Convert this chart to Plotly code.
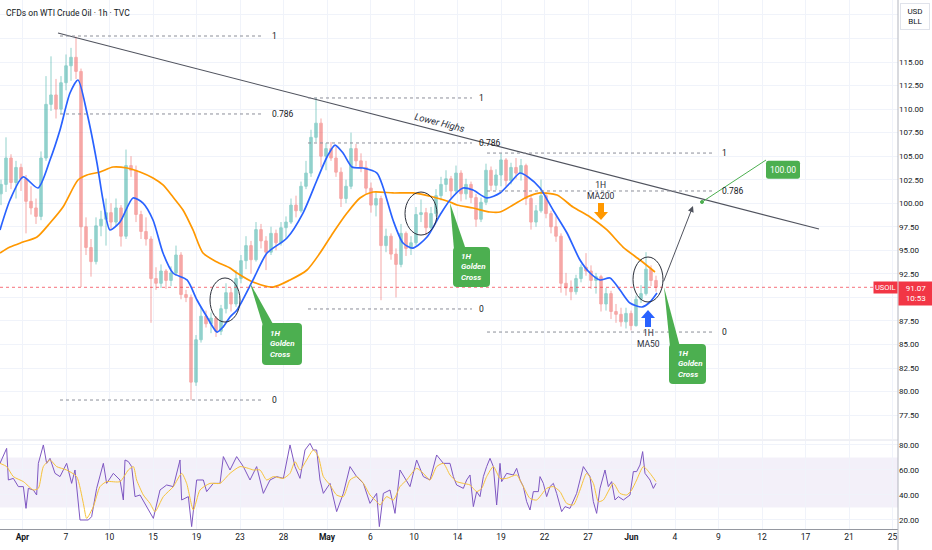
import plotly.graph_objects as go

# ---------------- data ----------------
open_ = [101.0,102.0,104.8,102.2,103.8,102.6,100.2,99.5,98.6,104.8,
         110.5,111.5,110.0,112.8,114.6,115.5,114.0,97.5,95.3,93.8,
         97.6,98.3,99.0,98.0,99.5,96.5,104.0,103.5,98.8,97.0,
         96.2,92.0,91.5,92.8,91.8,92.6,94.5,90.3,90.0,81.0,
         85.5,88.0,87.2,87.8,86.4,88.8,90.5,89.3,92.0,93.9,
         95.5,94.0,97.2,96.0,94.8,96.8,95.8,97.4,98.0,99.8,
         99.2,101.8,103.2,107.0,108.5,105.0,105.8,104.8,103.3,100.5,
         101.8,105.8,104.5,103.8,101.6,99.8,100.5,95.5,96.5,94.6,
         93.5,96.8,95.2,95.8,98.8,99.0,97.4,98.9,100.8,102.0,
         102.6,101.3,103.2,101.0,102.0,100.6,98.3,100.1,103.5,101.9,
         103.0,104.6,102.4,103.8,103.2,104.0,100.5,98.0,99.2,100.8,
         98.9,97.5,96.5,91.5,91.0,90.6,92.0,93.2,92.8,91.8,
         92.2,89.3,90.4,88.5,88.2,87.4,88.3,87.0,89.8,90.4,
         93.0,91.8]
high_ = [102.5,107.0,105.2,104.5,104.2,103.0,101.8,100.5,105.5,113.5,
         115.6,113.2,113.5,115.8,116.5,117.7,114.3,98.5,96.2,98.5,
         99.2,100.5,100.0,100.5,99.8,105.7,105.0,104.0,99.2,98.5,
         96.5,93.2,93.5,93.0,93.3,95.5,94.8,90.8,90.3,86.0,
         89.0,88.6,88.4,88.0,89.2,91.5,91.0,92.9,94.5,96.5,
         96.0,98.0,97.8,96.5,97.5,97.2,98.0,98.6,100.5,100.8,
         102.3,104.5,107.8,111.2,109.0,106.4,106.5,106.0,103.8,102.5,
         107.5,106.3,105.3,104.5,102.2,101.3,100.8,97.3,96.8,95.2,
         97.8,97.0,96.5,99.6,100.4,99.5,99.6,101.5,102.8,103.5,
         102.9,104.0,103.5,102.6,102.3,101.0,100.6,104.2,103.9,103.6,
         105.3,104.8,104.3,104.8,104.7,104.2,100.9,99.8,102.5,101.2,
         99.2,98.6,96.8,92.6,91.8,92.4,93.5,94.7,93.4,92.6,
         92.4,91.0,90.7,89.3,88.9,88.9,88.6,90.2,91.3,94.8,
         93.4,92.3]
low_ = [99.8,101.2,101.5,100.5,101.3,96.8,98.8,97.8,98.2,104.5,
        109.8,109.0,109.5,112.0,113.0,113.2,91.1,94.5,92.2,93.5,
        96.5,95.5,97.2,97.5,95.4,96.2,102.8,98.0,96.2,95.5,
        87.3,90.8,91.0,90.9,91.2,92.3,89.8,89.5,79.1,80.6,
        85.2,86.8,86.2,85.8,86.0,88.3,88.5,89.0,91.5,93.0,
        92.5,93.8,95.2,92.9,94.5,95.0,95.5,96.2,97.8,98.5,
        99.0,101.5,102.8,106.5,103.8,103.5,104.5,102.8,99.6,100.0,
        101.5,103.9,103.3,101.0,99.0,98.6,89.7,94.8,94.0,90.0,
        93.2,94.4,94.5,95.5,98.0,96.6,97.2,98.6,100.3,101.2,
        100.5,101.0,100.2,100.4,100.0,97.5,98.0,99.8,101.3,101.4,
        101.8,101.8,102.0,102.6,102.4,99.8,97.2,97.5,99.0,98.4,
        96.8,95.9,90.5,90.2,89.7,90.3,91.6,92.3,90.9,90.4,
        88.5,88.6,87.7,87.3,86.9,86.7,86.5,86.9,89.4,90.2,
        91.2,90.6]
close_ = [102.0,104.8,102.2,103.8,102.6,100.2,99.5,98.6,104.8,110.5,
          111.5,110.0,112.8,114.6,115.5,114.0,97.5,95.3,93.8,97.6,
          98.3,99.0,98.0,99.5,96.5,104.0,103.5,98.8,97.0,96.2,
          92.0,91.5,92.8,91.8,92.6,94.5,90.3,90.0,81.0,85.5,
          88.0,87.2,87.8,86.4,88.8,90.5,89.3,92.0,93.9,95.5,
          94.0,97.2,96.0,94.8,96.8,95.8,97.4,98.0,99.8,99.2,
          101.8,103.2,107.0,108.5,105.0,105.8,104.8,103.3,100.5,101.8,
          105.8,104.5,103.8,101.6,99.8,100.5,95.5,96.5,94.6,93.5,
          96.8,95.2,95.8,98.8,99.0,97.4,98.9,100.8,102.0,102.6,
          101.3,103.2,101.0,102.0,100.6,98.3,100.1,103.5,101.9,103.0,
          104.6,102.4,103.8,103.2,104.0,100.5,98.0,99.2,100.8,98.9,
          97.5,96.5,91.5,91.0,90.6,92.0,93.2,92.8,91.8,92.2,
          89.3,90.4,88.5,88.2,87.4,88.3,87.0,89.8,90.4,93.0,
          91.8,91.07]
bar_index = list(range(len(close_)))

# moving averages (bar, price)
ma50_pts = [(-0.2,97.16),(1.8,100.34),(4.4,102.79),(7.4,101.62),(9.8,104.59),(11.8,107.78),(13.8,111.71),
            (15.4,113.09),(17.2,109.58),(19.2,104.27),(20.4,100.34),(21.8,97.16),(23.8,98.01),(26.4,100.56),
            (28.4,100.02),(30.4,98.22),(32.4,94.71),(34.4,92.59),(37.2,91.85),(39.2,89.72),(41.2,87.92),
            (43.2,86.32),(44.4,86.85),(45.8,87.92),(47.2,88.66),(50.4,91.85),(53.2,94.71),(57.2,96.31),
            (60.4,98.96),(63.2,102.47),(65.2,104.91),(66.8,106.18),(68.4,105.33),(70.2,103.85),(72.4,103.74),
            (75.2,103.21),(76.4,101.72),(78.4,98.22),(80.4,95.78),(82.4,95.24),(85.2,96.41),(87.8,98.75),
            (89.8,100.34),(92.4,101.62),(94.4,101.40),(97.2,100.56),(99.8,101.09),(101.8,102.15),(103.8,103.21),
            (105.4,102.79),(107.8,101.62),(110.4,99.28),(113.2,96.84),(115.8,93.97),(117.8,92.59),(119.8,91.85),
            (121.8,92.06),(123.8,90.78),(125.8,89.40),(128.2,88.98),(129.8,89.51),(131.2,90.46)]
ma200_pts = [(-0.2,94.71),(1.8,95.35),(4.4,95.88),(7.2,96.41),(9.8,97.90),(12.4,99.60),(15.4,102.47),
             (17.2,103.0),(19.8,103.32),(22.4,103.85),(25.2,103.74),(27.8,103.32),(30.4,102.68),(32.4,101.94),
             (34.4,100.66),(36.4,99.28),(38.4,97.16),(40.4,94.71),(43.2,93.76),(45.8,93.12),(47.2,92.59),
             (50.4,91.63),(54.4,91.10),(57.8,91.85),(61.2,92.91),(63.8,94.71),(66.4,96.84),(69.2,98.96),
             (71.8,100.56),(74.4,101.19),(78.4,101.09),(82.4,101.09),(86.4,100.66),(89.8,100.13),(91.2,99.81),
             (94.4,99.49),(97.8,99.07),(99.8,99.07),(102.4,99.81),(105.2,100.66),(107.8,101.09),(111.2,100.87),
             (114.4,99.60),(117.8,98.54),(121.2,97.16),(124.4,95.35),(127.8,93.97),(130.8,92.70)]

# RSI and its moving average (bar, value)
rsi_pts = [(-0.2,65.3),(0.47,70.7),(1.13,77.3),(1.47,52.0),(2.47,53.3),(3.47,46.7),(4.47,46.7),(5.0,29.3),
           (5.47,45.3),(6.47,44.0),(7.13,40.0),(7.47,65.3),(8.47,80.0),(9.13,65.3),(9.8,69.3),(10.8,57.3),
           (11.8,54.7),(13.13,65.3),(14.13,49.3),(14.8,60.0),(15.8,20.0),(17.47,20.0),(18.13,22.7),(19.13,45.3),
           (20.47,65.3),(21.13,49.3),(22.47,57.3),(23.8,52.0),(24.47,36.0),(24.8,68.0),(25.47,66.7),(26.13,62.7),
           (26.8,38.7),(27.8,40.0),(29.13,30.7),(30.47,21.3),(31.8,44.0),(33.13,48.0),(34.47,46.7),(35.8,68.0),
           (36.13,36.0),(37.47,38.7),(38.13,14.7),(39.13,52.0),(40.47,52.0),(41.13,42.7),(42.47,49.3),(43.8,49.3),
           (44.47,70.7),(45.8,60.0),(47.13,70.7),(48.47,62.7),(49.8,52.0),(51.13,62.7),(52.47,41.3),(53.8,52.0),
           (55.13,54.7),(56.47,53.3),(57.8,80.0),(58.8,62.7),(59.8,53.3),(60.8,76.0),(61.8,81.3),(62.47,76.0),
           (63.13,76.0),(63.8,52.0),(64.47,41.3),(65.8,49.3),(67.13,26.7),(68.47,41.3),(69.8,62.7),(71.13,54.7),
           (72.47,49.3),(73.8,33.3),(75.13,41.3),(75.67,14.7),(76.47,41.3),(77.8,44.0),(78.8,25.3),(79.8,60.0),
           (81.8,46.7),(83.13,68.0),(84.47,54.7),(85.8,52.0),(87.13,72.0),(88.47,65.3),(89.8,65.3),(90.47,54.7),
           (91.13,48.0),(92.47,45.3),(93.13,52.0),(93.8,56.0),(94.47,30.7),(95.13,42.7),(95.8,38.7),(96.47,54.7),
           (97.13,62.7),(97.8,69.3),(98.47,62.7),(99.13,32.0),(99.8,65.3),(100.13,50.7),(101.13,57.3),(102.47,56.0),
           (103.13,61.3),(103.8,52.0),(104.47,46.7),(105.13,34.7),(105.8,28.0),(106.47,42.7),(107.47,42.7),
           (107.8,54.7),(108.47,49.3),(109.13,38.7),(109.8,46.7),(110.47,49.3),(111.13,41.3),(112.13,26.7),
           (112.8,30.7),(113.8,29.3),(115.13,41.3),(116.47,62.7),(117.8,54.7),(118.47,34.7),(119.13,25.3),
           (119.8,45.3),(120.8,60.0),(121.47,46.7),(122.13,50.7),(122.8,36.0),(123.47,38.7),(124.47,36.0),
           (125.8,40.0),(126.47,58.7),(127.13,58.7),(127.8,64.0),(128.33,74.7),(128.8,57.3),(129.8,52.0),
           (130.47,45.3),(131.0,49.3)]
rsi_ma_pts = [(-0.2,65.3),(1.13,62.7),(2.47,54.7),(4.47,50.7),(6.47,44.0),(7.47,45.3),(8.47,62.7),(9.8,68.0),
              (11.13,62.7),(13.13,60.0),(15.13,54.7),(16.47,33.3),(17.13,21.3),(18.47,30.7),(19.8,46.7),(21.13,50.7),
              (23.8,50.7),(25.47,60.0),(26.47,62.7),(27.13,52.0),(28.47,40.0),(29.8,33.3),(30.8,26.7),(32.47,38.7),
              (34.47,46.7),(36.13,57.3),(37.13,49.3),(38.47,28.0),(39.8,44.0),(41.8,49.3),(43.8,49.3),(45.8,57.3),
              (47.8,62.7),(49.47,61.3),(50.47,60.0),(51.8,60.0),(53.13,52.0),(54.47,54.7),(56.47,53.3),(57.8,57.3),
              (58.8,66.7),(59.8,60.0),(61.13,68.0),(62.47,76.0),(63.47,70.7),(64.47,54.7),(65.8,48.0),(67.13,40.0),
              (68.47,38.7),(69.8,52.0),(71.13,54.7),(72.47,49.3),(73.8,40.0),(75.13,34.7),(75.8,32.0),(77.13,38.7),
              (78.47,36.0),(79.8,46.7),(81.13,52.0),(83.13,61.3),(84.47,57.3),(85.8,52.0),(87.13,62.7),(88.47,65.3),
              (89.8,56.0),(91.13,50.7),(92.47,49.3),(93.8,48.0),(95.13,42.7),(96.13,45.3),(97.13,54.7),(98.47,62.7),
              (99.8,53.3),(101.13,53.3),(103.13,56.0),(104.13,49.3),(105.8,37.3),(107.13,36.0),(109.13,45.3),
              (110.47,46.7),(111.8,42.7),(113.13,33.3),(114.47,32.0),(115.8,44.0),(117.13,57.3),(118.47,49.3),
              (119.47,34.7),(120.47,36.0),(122.47,49.3),(123.8,41.3),(125.13,40.0),(126.13,44.0),(127.13,52.0),
              (128.47,62.7),(129.8,57.3),(131.0,50.7)]

# axis ticks
date_tick_pos = [4.3,13.0,21.7,30.4,39.1,47.8,56.5,65.2,73.9,82.6,91.3,100.0,108.7,117.4,126.1,134.8,143.5,152.2,160.9,169.6,178.3]
date_tick_labels = ["<b>Apr</b>","7","10","15","19","23","28","<b>May</b>","6","10","14","19","22","27",
                    "<b>Jun</b>","4","9","12","17","21","25"]
price_ticks = [77.5,80.0,82.5,85.0,87.5,90.0,92.5,95.0,97.5,100.0,102.5,105.0,107.5,110.0,112.5,115.0,117.5,120.0]
hidden_price_ticks = [90.0, 117.5, 120.0]   # covered by the price / currency labels in the reference
rsi_ticks = [20,40,60,80]
last_price = 91.07
target_price = 100.00

# ---------------- figure ----------------
GREEN = "#4caf50"
DARK = "#131722"
GRID = "#f0f3fa"
FONT = "Roboto, 'Liberation Sans', sans-serif"
X_RANGE = [-0.2, 179.4]

fig = go.Figure()
fig.add_trace(go.Candlestick(
    x=bar_index, open=open_, high=high_, low=low_, close=close_,
    increasing=dict(line=dict(color="#26a69a", width=1), fillcolor="#26a69a"),
    decreasing=dict(line=dict(color="#ef5350", width=1), fillcolor="#ef5350"),
    whiskerwidth=0, opacity=0.5, hoverinfo="skip", showlegend=False, xaxis="x", yaxis="y"))

mx, mv = zip(*ma200_pts)
fig.add_trace(go.Scatter(x=mx, y=mv, mode="lines", line=dict(color="#ff9800", width=1.7, shape="spline", smoothing=0.7),
                         hoverinfo="skip", showlegend=False, xaxis="x", yaxis="y"))
mx, mv = zip(*ma50_pts)
fig.add_trace(go.Scatter(x=mx, y=mv, mode="lines", line=dict(color="#2962ff", width=1.7, shape="spline", smoothing=0.7),
                         hoverinfo="skip", showlegend=False, xaxis="x", yaxis="y"))

rx, rv = zip(*rsi_pts)
fig.add_trace(go.Scatter(x=rx, y=rv, mode="lines", line=dict(color="#7e57c2", width=1),
                         hoverinfo="skip", showlegend=False, xaxis="x2", yaxis="y2"))
rx, rv = zip(*rsi_ma_pts)
fig.add_trace(go.Scatter(x=rx, y=rv, mode="lines", line=dict(color="#f7c33b", width=1, shape="spline", smoothing=0.6),
                         hoverinfo="skip", showlegend=False, xaxis="x2", yaxis="y2"))

shapes = []
annotations = []

# RSI band
shapes.append(dict(type="rect", xref="x2 domain", yref="y2", x0=0, x1=1, y0=30, y1=70,
                   fillcolor="rgba(126,87,194,0.09)", line=dict(width=0), layer="below"))
# pane separator and right axis line
shapes.append(dict(type="line", xref="paper", yref="paper", x0=0, x1=1, y0=0.1682, y1=0.1682,
                   line=dict(color="#e0e3eb", width=1)))
shapes.append(dict(type="line", xref="paper", yref="paper", x0=1, x1=1, y0=-0.0397, y1=1,
                   line=dict(color="#b2b5be", width=1)))
# last price line
shapes.append(dict(type="line", xref="paper", yref="y", x0=0, x1=1, y0=last_price, y1=last_price,
                   line=dict(color="rgba(242,54,69,0.7)", width=1, dash="dot")))

# trend line (lower highs)
shapes.append(dict(type="line", xref="x", yref="y", x0=11.4, y0=118.08, x1=163.6, y1=97.26,
                   line=dict(color="#50535e", width=1.1)))
annotations.append(dict(x=87.8, y=108.6, xref="x", yref="y", text="<i>Lower Highs</i>", showarrow=False,
                        textangle=14.4, font=dict(size=9.5, color="#2a2e39", family=FONT)))

# fib retracements: (x0, x1, label_x, [(level label, price)])
fibs = [
    (11.8, 52.2, 53.8, [("1", 117.76), ("0.786", 109.48), ("0", 79.10)]),
    (61.4, 94.2, 95.2, [("1", 111.18), ("0.786", 106.40), ("0", 88.77)]),
    (97.2, 142.8, 143.8, [("1", 105.33), ("0.786", 101.30), ("0", 86.32)]),
]
for x0, x1, lx, levels in fibs:
    for lab, p in levels:
        shapes.append(dict(type="line", xref="x", yref="y", x0=x0, x1=x1, y0=p, y1=p,
                           line=dict(color="#8c8f99", width=1, dash="dot")))
        annotations.append(dict(x=lx, y=p, xref="x", yref="y", text=lab, showarrow=False, xanchor="left",
                                font=dict(size=8.5, color=DARK, family=FONT)))

# circles around the crosses
for cx0, cx1, cy0, cy1 in [(41.8, 47.8, 87.38, 92.06), (80.8, 87.2, 96.62, 101.19), (126.4, 132.4, 89.51, 94.29)]:
    shapes.append(dict(type="circle", xref="x", yref="y", x0=cx0, x1=cx1, y0=cy0, y1=cy1,
                       line=dict(color="#2a2e39", width=1)))


def rrect(x0, x1, y0, y1, rx=0.8, ry=0.42):
    return (f"M {x0+rx},{y1} L {x1-rx},{y1} Q {x1},{y1} {x1},{y1-ry} L {x1},{y0+ry} Q {x1},{y0} {x1-rx},{y0} "
            f"L {x0+rx},{y0} Q {x0},{y0} {x0},{y0+ry} L {x0},{y1-ry} Q {x0},{y1} {x0+rx},{y1} Z")


# golden cross callouts: apex, base-left, base-right, box (x0,x1,y0,y1), text anchor
callouts = [
    ((49.8, 91.53), 52.4, 54.6, (52.2, 60.2, 82.82, 87.28), (53.3, 85.05)),
    ((89.8, 100.02), 90.6, 93.0, (90.4, 97.8, 91.10, 95.35), (91.5, 93.23)),
    ((132.6, 91.10), 133.8, 135.8, (133.6, 141.0, 80.80, 85.05), (134.9, 82.92)),
]
for (ax_, ay_), bl, br, (bx0, bx1, by0, by1), (tx, ty) in callouts:
    shapes.append(dict(type="path", xref="x", yref="y",
                       path=f"M {ax_},{ay_} L {bl},{by1-0.3} L {br},{by1-0.3} Z",
                       fillcolor=GREEN, line=dict(width=0)))
    shapes.append(dict(type="path", xref="x", yref="y", path=rrect(bx0, bx1, by0, by1),
                       fillcolor=GREEN, line=dict(width=0)))
    annotations.append(dict(x=tx, y=ty, xref="x", yref="y", text="<b><i>1H<br>Golden<br>Cross</i></b>",
                            showarrow=False, xanchor="left", align="left",
                            font=dict(size=8, color="white", family=FONT)))

# projection arrow
annotations.append(dict(x=138.4, y=99.7, ax=132.4, ay=91.53, xref="x", yref="y", axref="x", ayref="y",
                        text="", showarrow=True, arrowhead=2, arrowsize=1.2, arrowwidth=1, arrowcolor="#50535e"))
# target line, dot and label
shapes.append(dict(type="line", xref="x", yref="y", x0=140.2, y0=100.13, x1=153.0, y1=104.59,
                   line=dict(color=GREEN, width=1)))
shapes.append(dict(type="circle", xref="x", yref="y", x0=139.9, x1=140.5, y0=99.97, y1=100.29,
                   fillcolor=GREEN, line=dict(color=GREEN, width=1)))
shapes.append(dict(type="path", xref="x", yref="y", path=rrect(153.0, 159.8, 102.6, 104.5, 0.5, 0.25),
                   fillcolor=GREEN, line=dict(width=0)))
annotations.append(dict(x=156.4, y=103.55, xref="x", yref="y", text=f"{target_price:.2f}", showarrow=False,
                        font=dict(size=8.5, color="white", family=FONT)))

# MA labels with block arrows
annotations.append(dict(x=120.0, y=101.3, xref="x", yref="y", text="1H<br>MA200", showarrow=False,
                        font=dict(size=8.5, color="#2a2e39", family=FONT)))
shapes.append(dict(type="path", xref="x", yref="y",
                   path="M 119.4,100.02 L 120.6,100.02 L 120.6,99.07 L 121.4,99.07 L 120.0,98.22 L 118.6,99.07 L 119.4,99.07 Z",
                   fillcolor="#ff9800", line=dict(width=0)))
annotations.append(dict(x=129.4, y=85.6, xref="x", yref="y", text="1H<br>MA50", showarrow=False,
                        font=dict(size=8.5, color="#2a2e39", family=FONT)))
shapes.append(dict(type="path", xref="x", yref="y",
                   path="M 129.4,88.66 L 130.8,87.81 L 130.0,87.81 L 130.0,86.85 L 128.8,86.85 L 128.8,87.81 L 128.0,87.81 Z",
                   fillcolor="#2962ff", line=dict(width=0)))

# title
annotations.append(dict(x=0.005, y=0.975, xref="paper", yref="paper", xanchor="left", yanchor="middle",
                        text="CFDs on WTI Crude Oil · 1h · TVC", showarrow=False,
                        font=dict(size=8.5, color=DARK, family=FONT)))
# currency box
annotations.append(dict(x=1, y=1, xref="paper", yref="paper", xanchor="left", yanchor="top", xshift=2, yshift=-3,
                        text="USD<br>BLL", showarrow=False, bgcolor="white", bordercolor="#e0e3eb", borderwidth=1,
                        borderpad=3, width=22, font=dict(size=8, color=DARK, family=FONT)))
# last price labels
annotations.append(dict(x=1, y=last_price, xref="paper", yref="y", xanchor="right", yanchor="middle",
                        text="USOIL", showarrow=False, bgcolor="#f23645", borderpad=1,
                        font=dict(size=7.5, color="white", family=FONT)))
annotations.append(dict(x=1, y=last_price, xref="paper", yref="y", xanchor="left", yanchor="top", yshift=6,
                        text=f"{last_price:.2f}<br>10:53", showarrow=False, bgcolor="#f23645", borderpad=2,
                        width=30, font=dict(size=8, color="white", family=FONT)))

fig.update_layout(
    width=932, height=550, margin=dict(l=0, r=34, t=0, b=21),
    paper_bgcolor="white", plot_bgcolor="white", showlegend=False,
    font=dict(family=FONT, size=8.5, color=DARK),
    xaxis=dict(domain=[0, 1], anchor="y", range=X_RANGE, tickvals=date_tick_pos, showticklabels=False,
               showgrid=True, gridcolor=GRID, zeroline=False, rangeslider=dict(visible=False), fixedrange=True),
    xaxis2=dict(domain=[0, 1], anchor="y2", range=X_RANGE, tickvals=date_tick_pos, ticktext=date_tick_labels,
                showgrid=True, gridcolor=GRID, zeroline=False, showline=True, linecolor="#9598a1", ticks="",
                tickfont=dict(size=8.5, color=DARK)),
    yaxis=dict(domain=[0.1701, 1], anchor="x", side="right", range=[74.958, 121.585], tickvals=price_ticks,
               ticktext=["" if v in hidden_price_ticks else f"{v:.2f}" for v in price_ticks], showgrid=True,
               gridcolor=GRID, zeroline=False, ticks="", tickfont=dict(size=8, color=DARK)),
    yaxis2=dict(domain=[0, 0.1664], anchor="x2", side="right", range=[12.8, 83.2], tickvals=rsi_ticks,
                ticktext=[f"{v:.2f}" for v in rsi_ticks], showgrid=True, gridcolor=GRID, zeroline=False,
                ticks="", tickfont=dict(size=8, color=DARK)),
    shapes=shapes, annotations=annotations,
)

fig.write_html("out.html", config={"displayModeBar": False},
               post_script="document.body.style.margin='0';document.body.style.overflow='hidden';")
